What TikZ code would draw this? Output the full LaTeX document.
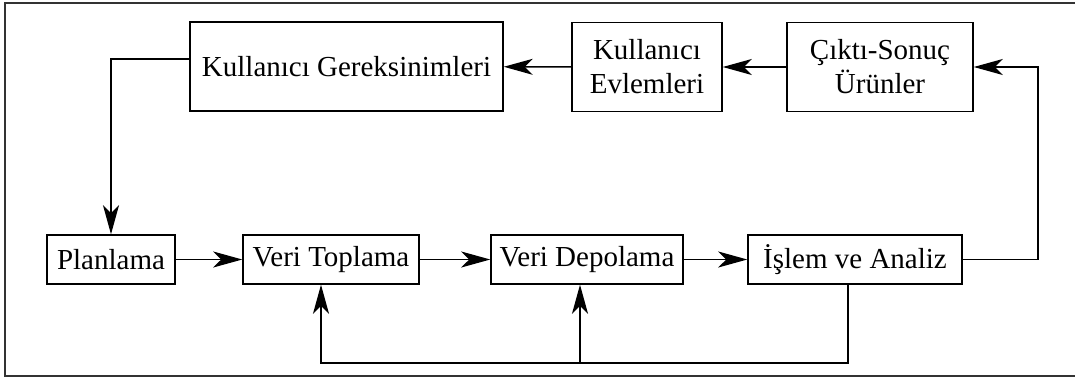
\documentclass[tikz,border=0pt]{standalone}
\usepackage{fontspec}
\setmainfont{Liberation Serif}
\usetikzlibrary{arrows.meta}
\begin{document}
\begin{tikzpicture}[x=1pt,y=-1pt,
  box/.style={draw, line width=1.5pt, inner sep=0pt, align=center,
    font=\fontsize{29}{34}\selectfont},
  upper/.style={box, minimum height=89pt},
  lower/.style={box, minimum height=49pt},
  arr/.style={line width=1.4pt, -{Stealth[length=29pt,width=16pt,inset=8pt]}},
  link/.style={line width=1.4pt}]
\useasboundingbox (0,0) rectangle (1075,378);
% frame around the whole scheme
\draw[line width=1.8pt, black!80] (1075,3) -- (5,3) -- (5,376) -- (1075,376);

% upper row
\node[upper, minimum width=313pt] (G) at (346.5,66.5) {Kullanıcı Gereksinimleri};
\node[upper, minimum width=150pt] (E) at (647,67) {Kullanıcı\\Evlemleri};
\node[upper, minimum width=186pt] (C) at (880,67) {Çıktı-Sonuç\\Ürünler};

% lower row
\node[lower, minimum width=128pt] (P) at (111,259.5) {Planlama};
\node[lower, minimum width=176pt] (T) at (331,259.5) {Veri Toplama};
\node[lower, minimum width=192pt] (D) at (587,259.5) {Veri Depolama};
\node[lower, minimum width=214pt] (I) at (855,259.5) {İşlem ve Analiz};

% routing points
\coordinate (r) at (1038,259.5);
\coordinate (b) at (848,363);

% forward flow
\draw[arr] (P) -- (T);
\draw[arr] (T) -- (D);
\draw[arr] (D) -- (I);
\draw[arr] (I.east) -- (r) |- (C.east);
\draw[arr] (C) -- (E);
\draw[arr] (E) -- (G);
\draw[arr] ([yshift=7.5pt]G.west) -| (P.north);

% feedback loop under the lower row
\draw[arr] (b |- I.south) -- (b) -| ([xshift=-10pt]T.south);
\draw[arr] ([xshift=-7pt]D.south |- b) -- ([xshift=-7pt]D.south);
\end{tikzpicture}
\end{document}
